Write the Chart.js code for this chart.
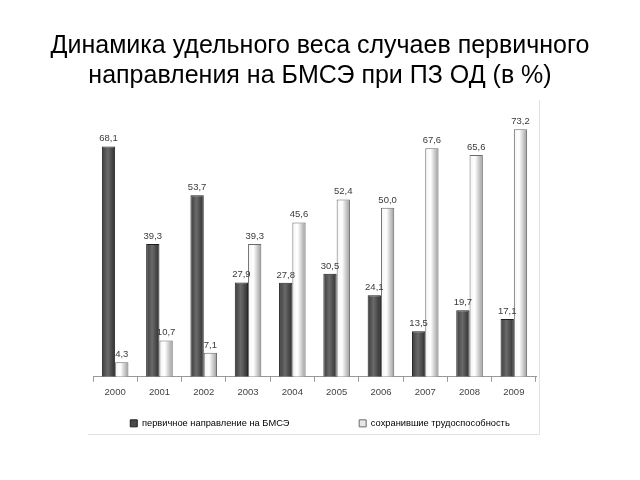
<!DOCTYPE html>
<html>
<head>
<meta charset="utf-8">
<script src="https://cdn.jsdelivr.net/npm/chart.js@4.4.0/dist/chart.umd.min.js"></script>
<style>
html,body{margin:0;padding:0;background:#fff;}
#wrap{width:640px;height:480px;position:relative;}
</style>
</head>
<body>
<div id="wrap"><canvas id="c" width="640" height="480"></canvas></div>
<script>
const categories = ['2000','2001','2002','2003','2004','2005','2006','2007','2008','2009'];
const primaryReferral = [68.1, 39.3, 53.7, 27.9, 27.8, 30.5, 24.1, 13.5, 19.7, 17.1];
const retainedAbility = [4.3, 10.7, 7.1, 39.3, 45.6, 52.4, 50.0, 67.6, 65.6, 73.2];
const seriesNames = ['первичное направление на БМСЭ', 'сохранившие трудоспособность'];
const titleLines = ['Динамика удельного веса случаев первичного', 'направления на БМСЭ при ПЗ ОД (в %)'];

const FONT = '"Liberation Sans", Arial, sans-serif';

function barGradient(stops, fallback) {
  return function(c) {
    const el = c.element;
    if (!el || el.x == null || !isFinite(el.x) || !el.width) return fallback;
    const w = el.width;
    const g = c.chart.ctx.createLinearGradient(el.x - w / 2, 0, el.x + w / 2, 0);
    stops.forEach(s => g.addColorStop(s[0], s[1]));
    return g;
  };
}

const labelsPlugin = {
  id: 'valueLabels',
  afterDatasetsDraw(chart) {
    const ctx = chart.ctx;
    ctx.save();
    ctx.font = '9.5px ' + FONT;
    ctx.fillStyle = '#3a3a3a';
    ctx.textAlign = 'center';
    ctx.textBaseline = 'bottom';
    chart.data.datasets.forEach((ds, di) => {
      const meta = chart.getDatasetMeta(di);
      meta.data.forEach((bar, i) => {
        const v = ds.data[i];
        ctx.fillText(v.toFixed(1).replace('.', ','), bar.x, bar.y - 3);
      });
    });
    ctx.restore();
  }
};

const framePlugin = {
  id: 'frame',
  beforeDraw(chart) {
    const ctx = chart.ctx;
    ctx.save();
    ctx.strokeStyle = '#e2e2e2';
    ctx.lineWidth = 1;
    ctx.beginPath();
    ctx.moveTo(539.5, 100);
    ctx.lineTo(539.5, 434.5);
    ctx.lineTo(88, 434.5);
    ctx.stroke();
    ctx.restore();
  }
};

const pad = '\u00A0'.repeat(21);

const hiddenAxis = (w, pos) => ({
  display: true,
  position: pos,
  min: 0,
  max: 78,
  grid: { display: false },
  border: { display: false },
  ticks: { display: false },
  afterFit(scale) { scale.width = w; }
});

const chart = new Chart(document.getElementById('c'), {
  type: 'bar',
  data: {
    labels: categories,
    datasets: [
      {
        label: seriesNames[0] + pad,
        data: primaryReferral,
        yAxisID: 'y',
        backgroundColor: barGradient([[0, '#3c3c3c'], [0.45, '#6a6a6a'], [1, '#2e2e2e']], '#555555'),
        borderColor: '#1e1e1e',
        borderWidth: 1,
        barPercentage: 1.0,
        categoryPercentage: 0.6
      },
      {
        label: seriesNames[1],
        data: retainedAbility,
        yAxisID: 'y',
        backgroundColor: barGradient([[0, '#f4f4f4'], [0.4, '#ffffff'], [1, '#9a9a9a']], '#e6e6e6'),
        borderColor: '#6a6a6a',
        borderWidth: 1,
        barPercentage: 1.0,
        categoryPercentage: 0.6
      }
    ]
  },
  options: {
    responsive: false,
    animation: false,
    layout: { padding: { left: 0, right: 0, top: 0, bottom: 42 } },
    scales: {
      x: {
        grid: { display: true, drawOnChartArea: false, drawTicks: true, tickLength: 5, color: '#999', offset: true },
        border: { display: true, color: '#999' },
        ticks: { color: '#444', font: { family: FONT, size: 9.5 }, padding: 5 }
      },
      y: hiddenAxis(93, 'left'),
      yRight: hiddenAxis(104, 'right')
    },
    plugins: {
      title: {
        display: true,
        text: titleLines,
        color: '#000',
        font: { family: FONT, size: 25, weight: 'normal', lineHeight: 1.2 },
        padding: { top: 31, bottom: 22 }
      },
      legend: {
        display: true,
        position: 'bottom',
        labels: {
          boxWidth: 7,
          boxHeight: 7,
          padding: 15.5,
          color: '#333',
          font: { family: FONT, size: 9.3 },
          generateLabels(ch) {
            return ch.data.datasets.map((ds, i) => ({
              text: ds.label,
              fillStyle: i === 0 ? '#4a4a4a' : '#e8e8e8',
              strokeStyle: i === 0 ? '#1e1e1e' : '#6a6a6a',
              lineWidth: 1,
              hidden: false,
              datasetIndex: i
            }));
          }
        }
      },
      tooltip: { enabled: false }
    }
  },
  plugins: [labelsPlugin, framePlugin]
});
chart.update('none');
</script>
</body>
</html>
